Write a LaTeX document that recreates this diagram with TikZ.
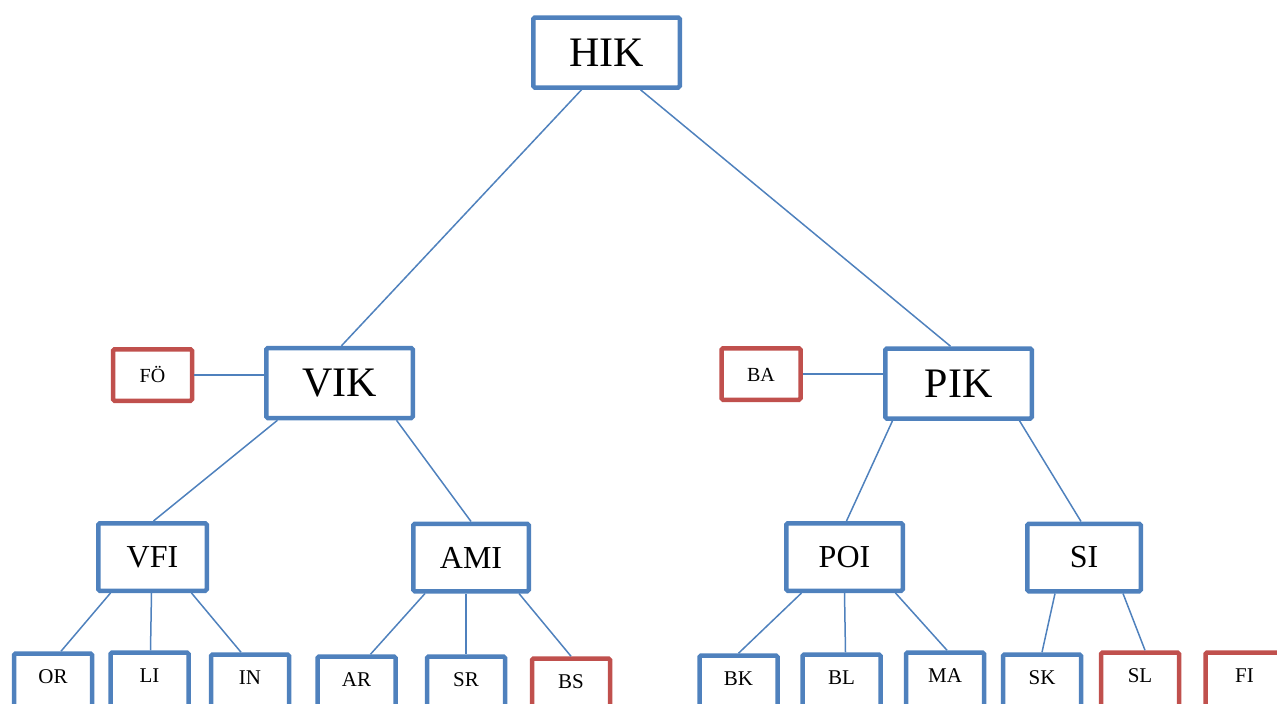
\documentclass[tikz,border=0pt]{standalone}
\usepackage{fontspec}
\setmainfont{Liberation Serif}
\definecolor{boxblue}{HTML}{4F81BD}
\definecolor{boxred}{HTML}{C0504D}
\begin{document}
\begin{tikzpicture}[x=1pt,y=-1pt,
  box/.style={draw=boxblue, line width=4.5pt, rounded corners=1.5pt, inner sep=0pt},
  redbox/.style={box, draw=boxred},
  topbox/.style={box, font=\fontsize{42}{48}\selectfont, minimum width=146.5pt, minimum height=70pt},
  midbox/.style={box, font=\fontsize{32}{38}\selectfont, minimum height=67.5pt},
  sidebox/.style={redbox, font=\fontsize{20}{24}\selectfont, minimum width=79pt, minimum height=51.5pt, text height=14pt, text depth=0pt},
  leaf/.style={box, font=\fontsize{21}{25}\selectfont, anchor=north, minimum width=78pt, text height=30pt, text depth=26pt},
  link/.style={boxblue, line width=1.5pt}]
\useasboundingbox (0,0) rectangle (1277,704);
% upper levels
\node[topbox] (hik) at (606.5,52.5) {HIK};
\node[topbox] (vik) at (339.5,383) {VIK};
\node[topbox] (pik) at (958.5,383.5) {PIK};
\node[sidebox] (fo) at (152.5,375) {FÖ};
\node[sidebox] (ba) at (761,374) {BA};
\node[midbox, minimum width=108.5pt] (vfi) at (152.5,557) {VFI};
\node[midbox, minimum width=115.5pt] (ami) at (471,557.5) {AMI};
\node[midbox, minimum width=116.5pt] (poi) at (844.5,557) {POI};
\node[midbox, minimum width=113.5pt] (si) at (1084,557.5) {SI};
% bottom row
\foreach \nm/\tx/\x/\y/\col in {or/OR/53/649/boxblue, li/LI/149.5/648/boxblue,
    inn/IN/250/650/boxblue, ar/AR/356.5/652/boxblue, sr/SR/466/652/boxblue,
    bs/BS/571/654/boxred, bk/BK/738.5/651/boxblue, bl/BL/841.5/650/boxblue,
    ma/MA/945/648/boxblue, sk/SK/1042/650/boxblue, sl/SL/1140/648/boxred,
    fi/FI/1244.5/648/boxred}{
  \node[leaf, draw=\col] (\nm) at (\x,\y+2.25) {\tx};
}
% connectors
\foreach \a/\sa/\b/\sb in {hik/-25/vik/2, hik/34/pik/-8, vik/-62/vfi/1, vik/57/ami/0,
    pik/-66/poi/2, pik/61/si/-3, vfi/-42/or/8, vfi/-1/li/1, vfi/39/inn/-9,
    ami/-46/ar/14, ami/-5/sr/0, ami/48/bs/0, poi/-43/bk/0, poi/0/bl/4,
    poi/51/ma/2, si/-29/sk/0, si/39/sl/5}{
  \draw[link] ([xshift=\sa pt]\a.south) -- ([xshift=\sb pt]\b.north);
}
\draw[link] (fo.east) -- (fo.east -| vik.west);
\draw[link] (ba.east) -- (ba.east -| pik.west);
\end{tikzpicture}
\end{document}
